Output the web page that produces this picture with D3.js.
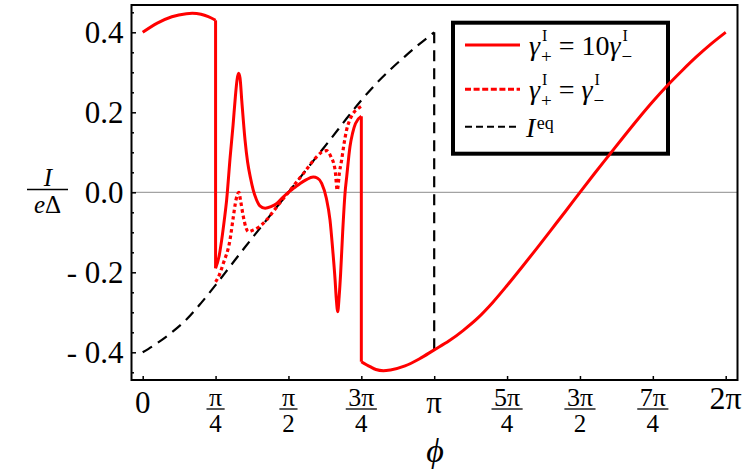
<!DOCTYPE html>
<html>
<head>
<meta charset="utf-8">
<script src="https://cdn.jsdelivr.net/npm/d3@7"></script>
<style>
  body { margin: 0; background: #fff; }
  svg { display: block; }
</style>
</head>
<body>
<div id="chart"></div>
<script>
// phi is given in units of pi
// I^eq, 0 .. pi
const eqPhi = [0, 0.05, 0.10, 0.15, 0.20, 0.25, 0.30, 0.35, 0.40, 0.45, 0.50,
               0.55, 0.60, 0.65, 0.70, 0.75, 0.80, 0.85, 0.90, 0.95, 1.00];
const eqI   = [-0.400, -0.377, -0.350, -0.318, -0.277, -0.232, -0.185, -0.138, -0.092, -0.046, 0.000,
               0.046, 0.092, 0.138, 0.185, 0.230, 0.271, 0.307, 0.340, 0.371, 0.400];

// gamma+ = 10 gamma-  (three branches)
const tenPhiA = [0, 0.05, 0.10, 0.15, 0.17, 0.20, 0.225, 0.25];
const tenIA   = [0.400, 0.423, 0.439, 0.4465, 0.4475, 0.445, 0.439, 0.430];

const tenPhiB = [0.25, 0.262, 0.271, 0.28, 0.288, 0.30, 0.31, 0.318, 0.324, 0.329, 0.334, 0.34, 0.351,
                 0.36, 0.37, 0.379, 0.39, 0.402, 0.42, 0.44, 0.46, 0.48, 0.50, 0.52, 0.54, 0.56, 0.585, 0.60,
                 0.614, 0.63, 0.6425, 0.652, 0.66, 0.664, 0.669, 0.674, 0.679, 0.686, 0.694, 0.70,
                 0.711, 0.72, 0.73, 0.75];
const tenIB   = [-0.190, -0.160, -0.119, -0.069, -0.019, 0.088, 0.168, 0.240, 0.283, 0.2975, 0.285, 0.228, 0.131,
                 0.075, 0.035, 0.006, -0.018, -0.034, -0.040, -0.036, -0.028, -0.013, 0.000, 0.011, 0.022, 0.031, 0.038, 0.035,
                 0.0225, -0.015, -0.069, -0.145, -0.219, -0.265, -0.2985, -0.260, -0.2025, -0.100, -0.003, 0.040,
                 0.114, 0.148, 0.172, 0.190];

const tenPhiC = [0.75, 0.78, 0.80, 0.8255, 0.85, 0.90, 0.95, 1.00, 1.05, 1.10, 1.15, 1.20, 1.25, 1.30, 1.35,
                 1.40, 1.45, 1.50, 1.55, 1.60, 1.65, 1.70, 1.75, 1.80, 1.85, 1.90, 1.95, 2.00];
const tenIC   = [-0.4235, -0.436, -0.443, -0.446, -0.444, -0.434, -0.416, -0.394, -0.372, -0.345, -0.314, -0.276, -0.233, -0.188, -0.142,
                 -0.095, -0.048, 0.000, 0.047, 0.093, 0.139, 0.184, 0.227, 0.267, 0.304, 0.339, 0.371, 0.400];

// gamma+ = gamma-  (differs from the solid curve only between pi/4 and 3pi/4)
const eqRatePhi = [0.25, 0.259, 0.2766, 0.2995, 0.311, 0.320, 0.330, 0.336, 0.345, 0.355, 0.362, 0.38, 0.40,
                   0.425, 0.45, 0.471, 0.50, 0.55, 0.6025, 0.615, 0.631, 0.645, 0.66, 0.6675, 0.675,
                   0.6825, 0.69, 0.6995, 0.71, 0.7225, 0.74, 0.75];
const eqRateI   = [-0.224, -0.213, -0.1775, -0.119, -0.061, -0.019, 0.000, -0.022, -0.060, -0.090, -0.0985, -0.094, -0.086,
                   -0.069, -0.046, -0.026, 0.000, 0.046, 0.093, 0.101, 0.104, 0.090, 0.056, 0.005, 0.050,
                   0.081, 0.118, 0.156, 0.180, 0.1975, 0.210, 0.215];

const xTicks = [0, 0.25, 0.5, 0.75, 1, 1.25, 1.5, 1.75, 2];
const xTickNum = ["0", "π", "π", "3π", "π", "5π", "3π", "7π", "2π"];
const xTickDen = [null, "4", "2", "4", null, "4", "2", "4", null];
const yMajor = [-0.4, -0.2, 0, 0.2, 0.4];
const yMinor = [-0.45, -0.35, -0.3, -0.25, -0.15, -0.1, -0.05, 0.05, 0.1, 0.15, 0.25, 0.3, 0.35, 0.45];

const legendLabels = ["10", "", "eq"];

var svg_w = 747, svg_h = 475;
var frame = {left: 131.5, top: 5, right: 737.5, bottom: 380};
var serif = "'Liberation Serif', 'DejaVu Serif', serif";

var svg = d3.select("#chart").append("svg")
      .attr("width", svg_w)
      .attr("height", svg_h)
      .style("font-family", serif);

var xScale = d3.scaleLinear().domain([0, 2]).range([142.7, 725.7]);
var yScale = d3.scaleLinear().domain([-0.4, 0.4]).range([352.3, 32.3]);

// zero line
svg.append("line")
  .attr("x1", frame.left).attr("x2", frame.right)
  .attr("y1", yScale(0)).attr("y2", yScale(0))
  .style("stroke", "#8c8c8c")
  .style("stroke-width", 1);

// y axis ticks (pointing inward)
var yMinorAxis = d3.axisLeft(yScale).tickValues(yMinor).tickSize(-2.5).tickFormat("");
var yMajorAxis = d3.axisLeft(yScale).tickValues(yMajor).tickSize(-4.5).tickPadding(8)
      .tickFormat(function(d) {
        return d < 0 ? "- " + Math.abs(d).toFixed(1) : d.toFixed(1);
      });

svg.append("g")
  .attr("transform", "translate(" + frame.left + ",0)")
  .call(yMinorAxis)
  .call(g => g.select(".domain").remove())
  .selectAll("line").style("stroke-width", 1.5);

var yg = svg.append("g")
  .attr("transform", "translate(" + frame.left + ",0)")
  .call(yMajorAxis)
  .attr("font-family", null)
  .attr("font-size", null);
yg.select(".domain").remove();
yg.selectAll("line").style("stroke-width", 1.5);
yg.selectAll("text")
  .style("font-family", serif)
  .style("font-size", "31px")
  .attr("dy", "0.34em");

// x axis ticks
var xAxis = d3.axisBottom(xScale).tickValues(xTicks).tickSize(-4).tickFormat("");
svg.append("g")
  .attr("transform", "translate(0," + frame.bottom + ")")
  .call(xAxis)
  .call(g => g.select(".domain").remove())
  .selectAll("line").style("stroke-width", 1.5);

// x tick labels, fractions of pi
xTicks.forEach(function(t, i) {
  var cx = xScale(t);
  if (xTickDen[i] == null) {
    var big = xTickNum[i] == "2π";
    svg.append("text")
      .attr("x", cx).attr("y", big ? 409 : 413)
      .attr("text-anchor", "middle")
      .style("font-size", (big ? 32 : 31) + "px")
      .text(xTickNum[i]);
  } else {
    var num = svg.append("text")
      .attr("x", cx).attr("y", 405.5)
      .attr("text-anchor", "middle")
      .style("font-size", "26px")
      .text(xTickNum[i]);
    var w = num.node().getComputedTextLength() + 5;
    svg.append("line")
      .attr("x1", cx - w / 2).attr("x2", cx + w / 2)
      .attr("y1", 409).attr("y2", 409)
      .style("stroke", "#000").style("stroke-width", 1.3);
    svg.append("text")
      .attr("x", cx).attr("y", 432)
      .attr("text-anchor", "middle")
      .style("font-size", "25px")
      .text(xTickDen[i]);
  }
});

// axis titles
svg.append("text")
  .attr("x", 435).attr("y", 462)
  .attr("text-anchor", "middle")
  .style("font-size", "34px")
  .style("font-style", "italic")
  .text("ϕ");

svg.append("text")
  .attr("x", 48).attr("y", 185.5)
  .attr("text-anchor", "middle")
  .style("font-size", "25px")
  .style("font-style", "italic")
  .text("I");
svg.append("line")
  .attr("x1", 27).attr("x2", 68)
  .attr("y1", 189.5).attr("y2", 189.5)
  .style("stroke", "#000").style("stroke-width", 1.3);
var ed = svg.append("text")
  .attr("x", 47.5).attr("y", 213)
  .attr("text-anchor", "middle")
  .style("font-size", "25px");
ed.append("tspan").style("font-style", "italic").text("e");
ed.append("tspan").text("Δ");

// legend (no fill, the curve runs through it)
var lg = svg.append("g");
lg.append("rect")
  .attr("x", 453).attr("y", 22.7)
  .attr("width", 215).attr("height", 131)
  .style("fill", "none")
  .style("stroke", "#000")
  .style("stroke-width", 4);

var rowY = [45, 89.3, 126.7];
var rowStyle = [
  {color: "red", width: 3, dash: null},
  {color: "red", width: 3, dash: "6,2.6"},
  {color: "#000", width: 2, dash: "7,4"}
];
rowY.forEach(function(y, i) {
  lg.append("line")
    .attr("x1", 465).attr("x2", 520)
    .attr("y1", y).attr("y2", y)
    .style("stroke", rowStyle[i].color)
    .style("stroke-width", rowStyle[i].width)
    .style("stroke-dasharray", rowStyle[i].dash);
});

// gamma with stacked super/subscript, returns x after it
function gammaSym(x, base, sub) {
  var g = lg.append("text").attr("x", x).attr("y", base)
    .style("font-size", "28px").style("font-style", "italic").text("γ");
  var w = g.node().getComputedTextLength();
  var sx = x + w + 1;
  var s1 = lg.append("text").attr("x", sx + 1).attr("y", base - 14)
    .style("font-size", "16px").text("I");
  var s2 = lg.append("text").attr("x", sx).attr("y", base + 8)
    .style("font-size", "19px").text(sub);
  return Math.max(sx + 1 + s1.node().getComputedTextLength(), sx + s2.node().getComputedTextLength());
}

function plainText(x, base, str, italic) {
  var t = lg.append("text").attr("x", x).attr("y", base)
    .style("font-size", "28px").text(str);
  if (italic) t.style("font-style", "italic");
  return x + t.node().getComputedTextLength();
}

var bx = gammaSym(529, 55, "+");
bx = plainText(bx + 7, 55, "=");
bx = plainText(bx + 7, 55, legendLabels[0]);
gammaSym(bx, 55, "−");

bx = gammaSym(529, 99, "+");
bx = plainText(bx + 7, 99, "=");
gammaSym(bx + 7, 99, "−");

bx = plainText(526, 137, "I", true);
lg.append("text").attr("x", bx + 1.5).attr("y", 129)
  .style("font-size", "18px").text(legendLabels[2]);

// curves
var line = d3.line()
  .x(d => xScale(d[0]))
  .y(d => yScale(d[1]))
  .curve(d3.curveMonotoneX);

var eqData = d3.zip(eqPhi, eqI);
svg.append("path")
  .attr("d", line(eqData))
  .style("fill", "none")
  .style("stroke", "#000")
  .style("stroke-width", 2.2)
  .style("stroke-dasharray", "11,7");
// jump of I^eq at pi
svg.append("line")
  .attr("x1", xScale(eqPhi[eqPhi.length - 1])).attr("x2", xScale(eqPhi[eqPhi.length - 1]))
  .attr("y1", yScale(eqI[eqI.length - 1])).attr("y2", yScale(eqI[0]))
  .style("stroke", "#000")
  .style("stroke-width", 2.2)
  .style("stroke-dasharray", "11,7");

var tenSegs = [d3.zip(tenPhiA, tenIA), d3.zip(tenPhiB, tenIB), d3.zip(tenPhiC, tenIC)];
tenSegs.forEach(function(seg, i) {
  svg.append("path")
    .attr("d", line(seg))
    .style("fill", "none")
    .style("stroke", "red")
    .style("stroke-width", 3)
    .style("stroke-linejoin", "round");
  if (i > 0) {
    var prev = tenSegs[i - 1][tenSegs[i - 1].length - 1];
    svg.append("line")
      .attr("x1", xScale(prev[0])).attr("x2", xScale(seg[0][0]))
      .attr("y1", yScale(prev[1])).attr("y2", yScale(seg[0][1]))
      .style("stroke", "red")
      .style("stroke-width", 3);
  }
});

svg.append("path")
  .attr("d", line(d3.zip(eqRatePhi, eqRateI)))
  .style("fill", "none")
  .style("stroke", "red")
  .style("stroke-width", 3.2)
  .style("stroke-dasharray", "3.5,3");

// frame
svg.append("rect")
  .attr("x", frame.left).attr("y", frame.top)
  .attr("width", frame.right - frame.left)
  .attr("height", frame.bottom - frame.top)
  .style("fill", "none")
  .style("stroke", "#000")
  .style("stroke-width", 2);
</script>
</body>
</html>
